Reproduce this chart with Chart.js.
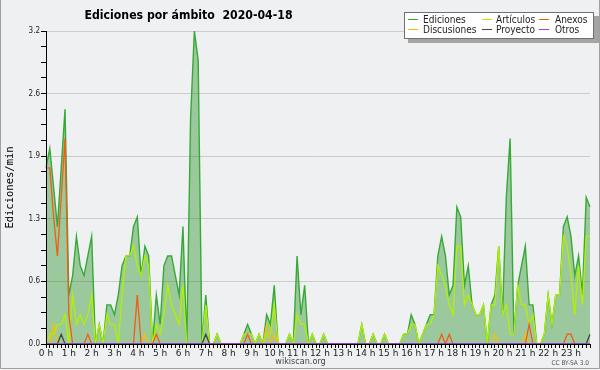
<!DOCTYPE html>
<html><head><meta charset="utf-8">
<script src="https://cdn.jsdelivr.net/npm/chart.js@4/dist/chart.umd.min.js"></script>
<style>html,body{margin:0;padding:0;background:#eff0f2;}canvas{display:block;}</style>
</head><body>
<canvas id="c" width="600" height="370"></canvas>
<script>
const chartTitle = 'Ediciones por ámbito  2020-04-18';
const yAxisTitle = 'Ediciones/min';
const hourLabels = ['0 h','1 h','2 h','3 h','4 h','5 h','6 h','7 h','8 h','9 h','10 h','11 h','12 h','13 h','14 h','15 h','16 h','17 h','18 h','19 h','20 h','21 h','22 h','23 h'];
const yTickLabels = ['0.0','0.6','1.3','1.9','2.6','3.2'];

// one value per 10 minutes (edits/min)
const ediciones = [
1.8,2.0,1.6,1.2,1.8,2.4,0.5,0.7,1.1,0.8,0.7,0.9,
1.1,0,0.2,0,0.4,0.4,0.3,0.5,0.8,0.9,0.9,1.2,
1.3,0.7,1.0,0.9,0,0.5,0.2,0.8,0.9,0.9,0.7,0.5,
1.2,0,2.3,3.2,2.9,0,0.5,0,0,0.1,0,0,
0,0,0,0,0.1,0.2,0.1,0,0.1,0,0.3,0.2,
0.6,0,0,0,0.1,0,0.9,0.3,0.6,0,0.1,0,
0,0.1,0,0,0,0,0,0,0,0,0,0.2,
0,0,0.1,0,0,0.1,0,0,0,0,0.1,0.1,
0.3,0.2,0,0.1,0.2,0.3,0.3,0.9,1.1,0.9,0.5,0.6,
1.4,1.3,0.6,0.8,0.4,0.3,0.3,0.4,0,0.4,0.5,1.0,
0.3,1.5,2.1,0.1,0.6,0.8,1.0,0.4,0.4,0,0,0.1,
0.5,0.2,0.5,0.5,1.2,1.3,1.1,0.7,0.9,0.5,1.5,1.4];
const articulos = [
0,0.1,0.1,0.2,0.2,0.3,0,0.5,0.2,0.3,0.2,0.3,
0.5,0,0.2,0,0.3,0.2,0.2,0,0.5,0.9,0.9,1.0,
0.8,0.7,0.9,0.8,0,0.2,0.1,0.3,0.6,0.4,0.3,0.2,
0.6,0,0,0,0,0,0.4,0,0,0.1,0,0,
0,0,0,0,0.1,0.1,0.1,0,0.1,0,0.1,0.1,
0.4,0,0,0,0.1,0,0.3,0.2,0.2,0,0.1,0,
0,0.1,0,0,0,0,0,0,0,0,0,0.2,
0,0,0.1,0,0,0.1,0,0,0,0,0.1,0.1,
0.2,0.2,0,0.1,0.2,0.2,0.3,0.8,0.7,0.6,0.4,0.3,
1.0,1.0,0.4,0.5,0.4,0.3,0.3,0.4,0,0.4,0.4,1.0,
0.3,0.4,0.1,0.1,0.6,0.4,0.4,0.2,0.3,0,0,0.1,
0.5,0.2,0.5,0.5,1.1,1.0,0.7,0.3,0.8,0.4,1.1,1.1];
const anexos = [
1.8,1.8,1.3,0.9,1.5,2.1,0.3,0,0,0,0,0.1,
0,0,0,0,0,0,0,0,0,0,0,0,
0.5,0,0,0,0,0.1,0,0,0,0,0,0,
0,0,0,0,0,0,0,0,0,0,0,0,
0,0,0,0,0,0.1,0,0,0,0,0,0,
0,0,0,0,0,0,0,0,0,0,0,0,
0,0,0,0,0,0,0,0,0,0,0,0,
0,0,0,0,0,0,0,0,0,0,0,0,
0,0,0,0,0,0,0,0,0.1,0,0.1,0,
0,0,0,0,0,0,0,0,0,0,0,0,
0,0,0,0,0,0,0,0.2,0,0,0,0,
0,0,0,0,0,0.1,0.1,0,0,0,0,0];
const discusiones = [
0,0,0.2,0,0,0,0,0,0,0,0,0,
0,0,0,0,0,0,0,0,0,0,0,0,
0,0,0.1,0,0,0,0,0,0,0,0,0,
0,0,0,0,0,0,0,0,0,0,0,0,
0,0,0,0,0,0,0,0,0,0,0.2,0,
0.1,0,0,0,0,0,0,0,0,0,0,0,
0,0,0,0,0,0,0,0,0,0,0,0,
0,0,0,0,0,0,0,0,0,0,0,0,
0,0,0,0,0,0,0,0,0,0,0,0,
0,0,0,0,0,0,0,0,0,0,0.1,0,
0,0,0,0,0,0,0.1,0,0,0,0,0,
0,0,0,0,0,0,0,0,0,0,0,0];
const proyecto = [
0,0,0,0,0.1,0,0,0,0,0,0,0,
0,0,0,0,0,0,0,0,0,0,0,0,
0,0,0,0,0,0,0,0,0,0,0,0,
0,0,0,0,0,0,0.1,0,0,0,0,0,
0,0,0,0,0,0,0,0,0,0,0,0,
0,0,0,0,0,0,0,0,0,0,0,0,
0,0,0,0,0,0,0,0,0,0,0,0,
0,0,0,0,0,0,0,0,0,0,0,0,
0,0,0,0,0,0,0,0,0,0,0,0,
0,0,0,0,0,0,0,0,0,0,0,0,
0,0,0,0,0,0,0,0,0,0,0,0,
0,0,0,0,0,0,0,0,0,0,0,0.1];
const otros = [
0,0,0,0,0,0,0,0,0,0,0,0,
0,0,0,0,0,0,0,0,0,0,0,0,
0,0,0,0,0,0,0,0,0,0,0,0,
0,0,0,0,0,0,0,0,0,0,0,0,
0,0,0,0,0,0,0,0,0,0,0,0,
0,0,0,0,0,0,0,0,0,0,0,0,
0,0,0,0,0,0,0,0,0,0,0,0,
0,0,0,0,0,0,0,0,0,0,0,0,
0,0,0,0,0,0,0,0,0,0,0,0,
0,0,0,0,0,0,0,0,0,0,0,0,
0,0,0,0,0,0,0,0,0,0,0,0,
0,0,0,0,0,0,0,0,0,0,0,0];

const times = [];
for (let h = 0; h < 24; h++) for (let m = 0; m < 60; m += 10)
  times.push(String(h).padStart(2,'0') + ':' + String(m).padStart(2,'0'));

const BG = '#eff0f2';
const COND = '"DejaVu Sans Condensed", "DejaVu Sans", sans-serif';

const deco = {
  id: 'deco',
  beforeDraw(chart) {
    const c = chart.ctx;
    c.save(); c.fillStyle = BG; c.fillRect(0, 0, chart.width, chart.height); c.restore();
  },
  afterDraw(chart) {
    const c = chart.ctx;
    c.save();
    // frame
    c.strokeStyle = '#a0a0a0'; c.lineWidth = 1;
    c.beginPath(); c.moveTo(0.5, 0); c.lineTo(0.5, 368.5); c.lineTo(599.5, 368.5); c.lineTo(599.5, 0); c.stroke();
    // title
    c.fillStyle = '#000'; c.font = 'bold 12.2px ' + COND; c.textAlign = 'center'; c.textBaseline = 'alphabetic';
    c.fillText(chartTitle, 188.5, 19);
    // legend
    c.fillStyle = '#a4a4a4'; c.fillRect(408, 16, 191, 27);
    c.fillStyle = '#ffffff'; c.fillRect(404, 12, 190, 27);
    c.strokeStyle = '#707070'; c.strokeRect(404.5, 12.5, 189, 26);
    const sx = [408, 482, 539], tx = [423, 496, 555], ly = [19, 29];
    c.font = '10px ' + COND; c.textAlign = 'left';
    chart.data.datasets.forEach((d, i) => {
      const col = i % 3, row = Math.floor(i / 3);
      c.strokeStyle = d.borderColor; c.lineWidth = 1;
      c.beginPath(); c.moveTo(sx[col], ly[row] + 0.5); c.lineTo(sx[col] + 10, ly[row] + 0.5); c.stroke();
      c.fillStyle = '#222'; c.fillText(d.label, tx[col], ly[row] + 4);
    });
    // footer
    c.fillStyle = '#444'; c.font = '9px ' + COND; c.textAlign = 'center';
    c.fillText('wikiscan.org', 300.5, 363.5);
    c.font = '6.5px ' + COND; c.textAlign = 'right'; c.fillStyle = '#555';
    c.fillText('CC BY-SA 3.0', 589, 365);
    c.restore();
  }
};

new Chart(document.getElementById('c'), {
  type: 'line',
  data: {
    labels: times,
    datasets: [
      {label: 'Ediciones', data: ediciones, borderColor: '#36a936', backgroundColor: 'rgba(0,130,0,0.35)', fill: 'origin', borderWidth: 1.4, order: 6},
      {label: 'Artículos', data: articulos, borderColor: '#b2f000', fill: false, borderWidth: 1.3, order: 5},
      {label: 'Anexos', data: anexos, borderColor: '#f25c14', fill: false, borderWidth: 1.3, order: 3},
      {label: 'Discusiones', data: discusiones, borderColor: '#f5c000', fill: false, borderWidth: 1.3, order: 4},
      {label: 'Proyecto', data: proyecto, borderColor: '#444444', fill: false, borderWidth: 1.3, order: 2},
      {label: 'Otros', data: otros, borderColor: '#9a3cf0', fill: false, borderWidth: 1.3, order: 1}
    ]
  },
  options: {
    responsive: false,
    animation: false,
    layout: {padding: {left: 0, right: 10, top: 31, bottom: 0}},
    elements: {point: {radius: 0}, line: {tension: 0}},
    plugins: {legend: {display: false}, tooltip: {enabled: false}, title: {display: false}},
    scales: {
      x: {
        type: 'category', offset: false,
        grid: {display: true, drawOnChartArea: false, drawTicks: true, tickLength: 4, tickColor: '#000', color: '#000'},
        border: {display: true, color: '#000', width: 1, z: 1},
        ticks: {autoSkip: false, maxRotation: 0, minRotation: 0, padding: 0, color: '#222',
          font: {family: 'DejaVu Sans', size: 9},
          callback: (v, i) => (i % 6 === 0 ? hourLabels[i / 6] : '')},
        afterFit(s) { s.height = 26; }
      },
      y: {
        min: 0, max: 3.2,
        ticks: {stepSize: 0.16, maxTicksLimit: 40, padding: 1, color: '#222',
          font: {family: 'DejaVu Sans Condensed', size: 8},
          callback: (v, i) => (i % 4 === 0 ? yTickLabels[i / 4] : '')},
        grid: {color: (c) => (c.index % 4 === 0 ? '#cccccc' : 'rgba(0,0,0,0)'), tickColor: '#000', tickLength: 5},
        border: {display: true, color: '#000', z: 1},
        title: {display: true, text: yAxisTitle, color: '#000', font: {family: 'DejaVu Sans Mono', size: 10.5}, padding: {top: 4, bottom: 0}},
        afterFit(s) { s.width = 46; }
      }
    }
  },
  plugins: [deco]
});
</script>
</body></html>
